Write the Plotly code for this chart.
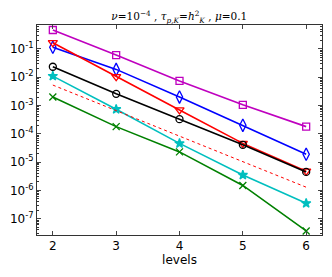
import plotly.graph_objects as go

levels = [2, 3, 4, 5, 6]
magenta_sq = [0.47, 0.061, 0.0074, 1.06e-3, 1.8e-4]
blue_dia = [0.115, 0.019, 2.0e-3, 2.0e-4, 1.9e-5]
red_tri = [0.167, 0.0105, 7.0e-4, 4.6e-5, 4.8e-6]
black_circ = [0.0236, 2.6e-3, 3.3e-4, 4.1e-5, 4.5e-6]
cyan_star = [0.011, 7.4e-4, 4.6e-5, 3.5e-6, 3.5e-7]
green_x = [2.0e-3, 1.8e-4, 2.3e-5, 1.5e-6, 3.7e-8]
ref_slope = [5.3e-3, 6.6e-4, 8.3e-5, 1.03e-5, 1.3e-6]

ytick_vals = [1e-1, 1e-2, 1e-3, 1e-4, 1e-5, 1e-6, 1e-7]
ytick_text = ["10<sup>-1</sup>", "10<sup>-2</sup>", "10<sup>-3</sup>", "10<sup>-4</sup>",
              "10<sup>-5</sup>", "10<sup>-6</sup>", "10<sup>-7</sup>"]

fig = go.Figure()

def add(y, color, symbol, size=7, dash="solid", mode="lines+markers", width=1.6):
    fig.add_trace(go.Scatter(
        x=levels, y=y, mode=mode,
        line=dict(color=color, width=width, dash=dash),
        marker=dict(symbol=symbol, size=size, color=color,
                    line=dict(color=color, width=1.3)),
        showlegend=False))

add(magenta_sq, "#bf00bf", "square-open", 7)
add(blue_dia, "#0000ff", "diamond-tall-open", 9)
add(red_tri, "#ff0000", "triangle-down-open", 8)
add(black_circ, "#000000", "circle-open", 7)
add(cyan_star, "#00bfbf", "star", 7)
add(green_x, "#008000", "x-thin-open", 7)
add(ref_slope, "#ff0000", "circle", 0, dash="dot", mode="lines", width=1.0)

fig.update_layout(
    width=332, height=277,
    margin=dict(l=37, r=10, t=25, b=42, autoexpand=False),
    plot_bgcolor="white", paper_bgcolor="white",
    font=dict(family="DejaVu Sans", size=12, color="black"),
    title=dict(
        text="<i>ν</i>=10<sup>−4</sup> , <i>τ</i><sub><i>p,K</i></sub>=<i>h</i><sup>2</sup><sub><i>K</i></sub> , <i>μ</i>=0.1",
        x=0.54, xanchor="center", y=0.94, yanchor="middle",
        font=dict(family="DejaVu Serif", size=10.5)),
)
fig.update_xaxes(
    range=[1.75, 6.25], tickvals=levels, ticks="inside", ticklen=4,
    mirror="ticks", showline=True, linecolor="#333", linewidth=1,
    showgrid=False, zeroline=False,
    title=dict(text="levels", standoff=2, font=dict(size=12)),
    tickfont=dict(size=12),
)
fig.update_yaxes(
    type="log", range=[-7.576, -0.152], tickvals=ytick_vals, ticktext=ytick_text,
    ticks="inside", ticklen=4, mirror="ticks", showline=True, linecolor="#333",
    linewidth=1, showgrid=False, zeroline=False, tickfont=dict(size=12),
    minor=dict(ticks="inside", ticklen=2, dtick="D1", showgrid=False, tickcolor="#333"),
)

fig.write_html("out.html", post_script="document.body.style.margin='0';",
               config={"displayModeBar": False})
